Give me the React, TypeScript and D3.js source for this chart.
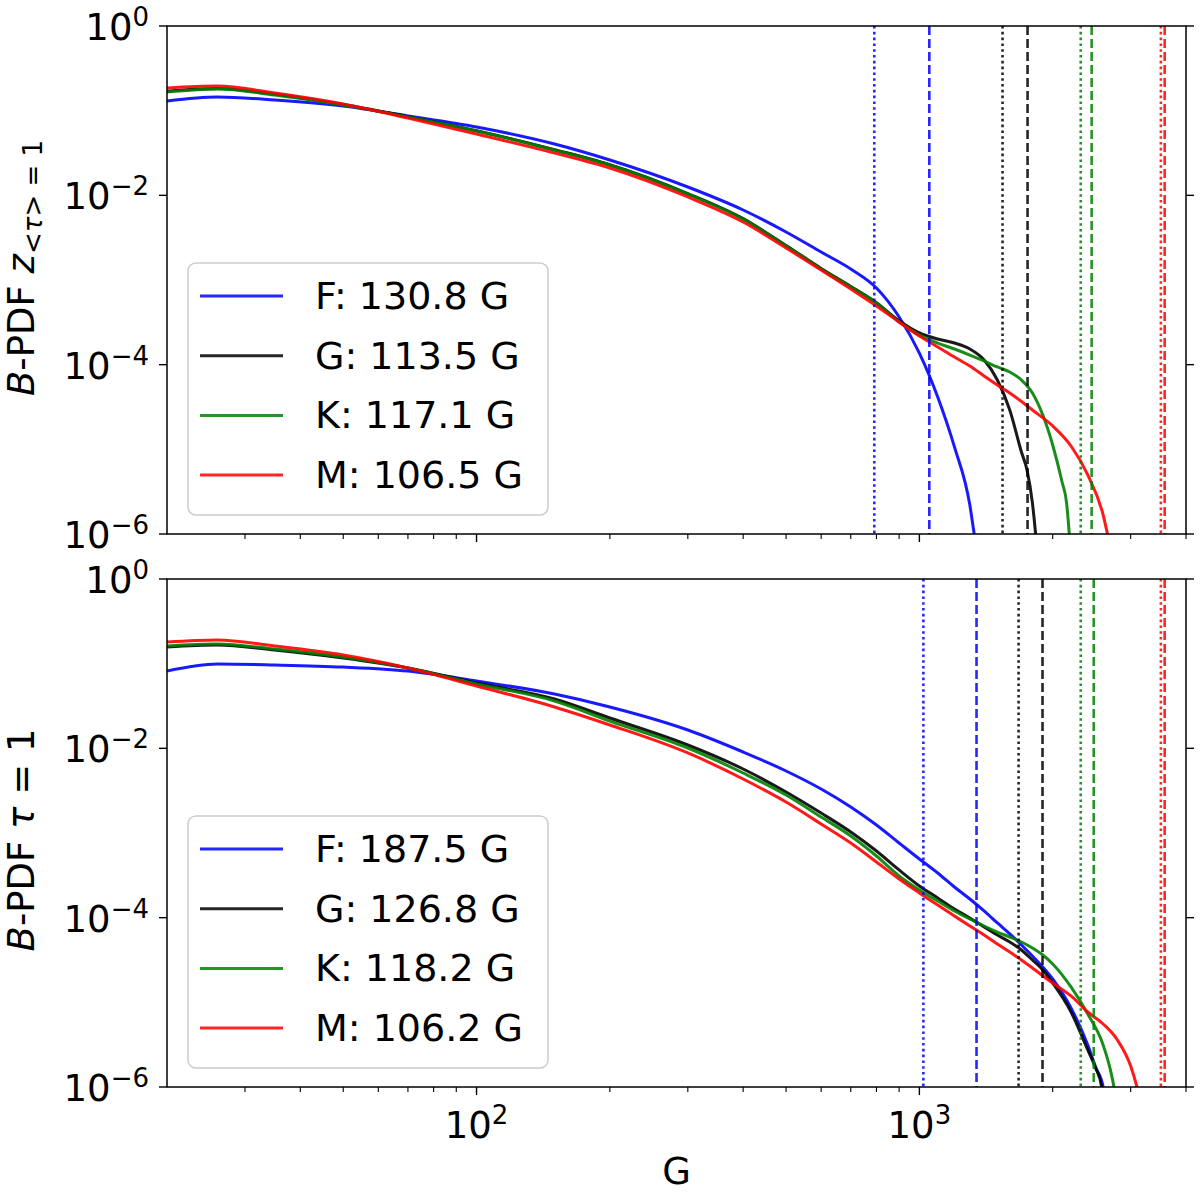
import React from 'react';
import * as d3 from 'd3';

// B-PDF at z_<tau>=1, pairs of [field strength in G, pdf]
const topF: [number, number][] = [
  [20, 0.130], [26, 0.145], [35, 0.1337], [50, 0.1135], [70, 0.0865], [100, 0.0641], [150, 0.0404],
  [200, 0.02615], [300, 0.01254], [400, 0.00671], [500, 0.00369], [600, 0.00214], [700, 0.00135],
  [800, 0.000805], [900, 0.000366], [1000, 0.000137], [1100, 4.15e-5], [1200, 1.067e-5],
  [1300, 2.2e-6], [1330, 1e-6], [1360, 5e-7],
];
const topG: [number, number][] = [
  [20, 0.170], [26, 0.183], [35, 0.156], [50, 0.118], [70, 0.085], [100, 0.058], [150, 0.0346],
  [200, 0.023], [300, 0.0105], [400, 0.0053], [500, 0.00255], [600, 0.00137], [700, 0.00084],
  [800, 0.00054], [900, 0.00033], [1000, 0.000237], [1100, 0.000201], [1200, 0.00018],
  [1300, 0.000153], [1400, 0.0001136], [1500, 6.59e-5], [1600, 2.91e-5], [1700, 9.3e-6],
  [1750, 5.7e-6], [1800, 2.32e-6], [1830, 1e-6], [1850, 5e-7],
];
const topK: [number, number][] = [
  [20, 0.1661], [26, 0.1803], [35, 0.1531], [50, 0.1167], [70, 0.0842], [100, 0.0575], [150, 0.0343],
  [200, 0.02282], [300, 0.01037], [400, 0.00525], [500, 0.00252], [600, 0.00135], [700, 0.000827],
  [800, 0.000535], [900, 0.000319], [1000, 0.000224], [1100, 0.00018], [1200, 0.000153],
  [1300, 0.00013], [1400, 0.0001105], [1500, 9.39e-5], [1600, 8.19e-5], [1700, 6.59e-5],
  [1800, 4.63e-5], [1900, 2.54e-5], [2000, 1.125e-5], [2100, 4.11e-6], [2150, 2.32e-6],
  [2180, 1e-6], [2200, 5e-7],
];
const topM: [number, number][] = [
  [20, 0.1853], [26, 0.1956], [35, 0.1617], [50, 0.1199], [70, 0.0819], [100, 0.053], [150, 0.0316],
  [200, 0.02103], [300, 0.00956], [400, 0.00484], [500, 0.00239], [600, 0.00131], [700, 0.000783],
  [800, 0.000493], [900, 0.000319], [1000, 0.000218], [1100, 0.000162], [1200, 0.000123],
  [1300, 9.65e-5], [1400, 7.35e-5], [1500, 5.75e-5], [1600, 4.63e-5], [1800, 2.91e-5],
  [2000, 1.89e-5], [2200, 1.095e-5], [2400, 4.98e-6], [2600, 1.68e-6], [2660, 1e-6], [2750, 5e-7],
];

// B-PDF at tau=1
const botF: [number, number][] = [
  [20, 0.0819], [26, 0.0991], [35, 0.0965], [50, 0.0913], [70, 0.0819], [100, 0.0624],
  [150, 0.0438], [200, 0.0308], [300, 0.01647], [400, 0.00905], [500, 0.0054], [600, 0.00331],
  [700, 0.00203], [800, 0.001243], [900, 0.000762], [1000, 0.000493], [1100, 0.000337],
  [1200, 0.00023], [1300, 0.000166], [1400, 0.00012], [1500, 8.66e-5], [1600, 6.42e-5],
  [1700, 4.76e-5], [1800, 3.53e-5], [2000, 1.89e-5], [2200, 8.58e-6], [2400, 3.13e-6],
  [2500, 1.72e-6], [2600, 1e-6], [2650, 5e-7],
];
const botG: [number, number][] = [
  [20, 0.1573], [26, 0.1661], [35, 0.145], [50, 0.1167], [70, 0.0889], [100, 0.0591],
  [150, 0.0383], [200, 0.02282], [300, 0.01095], [400, 0.0057], [500, 0.00305], [600, 0.00172],
  [700, 0.001028], [800, 0.000613], [900, 0.000366], [1000, 0.000237], [1100, 0.000171],
  [1200, 0.0001266], [1300, 9.91e-5], [1400, 7.76e-5], [1500, 6.24e-5], [1600, 5.16e-5],
  [1700, 4.15e-5], [1800, 3.16e-5], [1900, 2.41e-5], [2000, 1.69e-5], [2200, 7.69e-6],
  [2400, 2.74e-6], [2500, 1.68e-6], [2580, 1e-6], [2620, 5e-7],
];
const botK: [number, number][] = [
  [20, 0.1617], [26, 0.1707], [35, 0.149], [50, 0.1199], [70, 0.0889], [100, 0.0575],
  [150, 0.0362], [200, 0.02103], [300, 0.01009], [400, 0.00511], [500, 0.00281], [600, 0.001545],
  [700, 0.000922], [800, 0.000535], [900, 0.000311], [1000, 0.000212], [1100, 0.000157],
  [1200, 0.00012], [1300, 9.64e-5], [1400, 7.97e-5], [1500, 6.77e-5], [1600, 5.91e-5],
  [1700, 5.16e-5], [1800, 4.38e-5], [1900, 3.62e-5], [2000, 2.84e-5], [2200, 1.52e-5],
  [2400, 7.29e-6], [2600, 3.13e-6], [2700, 1.59e-6], [2750, 1e-6], [2800, 5e-7],
];
const botM: [number, number][] = [
  [20, 0.1803], [26, 0.1904], [35, 0.1617], [50, 0.1265], [70, 0.0889], [100, 0.0545],
  [150, 0.0308], [200, 0.01887], [300, 0.00881], [400, 0.00434], [500, 0.00232], [600, 0.001278],
  [700, 0.000762], [800, 0.000455], [900, 0.000286], [1000, 0.000196], [1100, 0.000141],
  [1200, 0.0001046], [1300, 7.97e-5], [1400, 6.24e-5], [1500, 4.89e-5], [1600, 3.93e-5],
  [1700, 3.16e-5], [1800, 2.54e-5], [2000, 1.69e-5], [2200, 1.19e-5], [2400, 7.69e-6],
  [2600, 5.55e-6], [2800, 3.59e-6], [3000, 1.77e-6], [3100, 1e-6], [3200, 5e-7],
];

// spectral types, colours and legend labels (mean field)
const starTypes = ['F', 'G', 'K', 'M'];
const starColors = ['#0000ff', '#000000', '#008000', '#ff0000'];
const topMeans = ['130.8', '113.5', '117.1', '106.5'];
const botMeans = ['187.5', '126.8', '118.2', '106.2'];

// vertical marker lines (G): dotted and dashed, one per spectral type
const topDotted = [791, 1541, 2314, 3510];
const topDashed = [1053, 1755, 2449, 3580];
const botDotted = [1021, 1675, 2314, 3510];
const botDashed = [1346, 1897, 2476, 3580];

const xMajor = [100, 1000];
const xMinor = [30, 40, 50, 60, 70, 80, 90, 200, 300, 400, 500, 600, 700, 800, 900, 2000, 3000, 4000];
const yMajor = [0, -2, -4, -6];

const W = 1200;
const H = 1192;
const LEFT = 167;
const RIGHT = 1186;
const FONT = 'DejaVu Sans, sans-serif';
const FS = 37;
const SUP = 26;

const x = d3.scaleLog().domain([20, 4000]).range([LEFT, RIGHT]);

function Panel({ id, top, bottom, series, dotted, dashed, means, legendTop, yLabel, yLabelY, showX }: any) {
  const y = d3.scaleLog().domain([1e-6, 1]).range([bottom, top]);
  const line = d3.line<[number, number]>()
    .x(d => x(d[0]))
    .y(d => y(d[1]))
    .curve(d3.curveMonotoneX);
  const rowGap = 59.7;
  return (
    <g>
      <defs>
        <clipPath id={id}>
          <rect x={LEFT} y={top} width={RIGHT - LEFT} height={bottom - top} />
        </clipPath>
      </defs>
      <g clipPath={`url(#${id})`}>
        {series.map((s: [number, number][], i: number) => (
          <path key={i} d={line(s) ?? ''} fill="none" stroke={starColors[i]} strokeWidth={3}
            strokeOpacity={0.9} strokeLinejoin="round" />
        ))}
        {dotted.map((v: number, i: number) => (
          <line key={'d' + i} x1={x(v)} x2={x(v)} y1={top} y2={bottom} stroke={starColors[i]}
            strokeWidth={2.6} strokeDasharray="2.6,3.2" strokeOpacity={0.85} />
        ))}
        {dashed.map((v: number, i: number) => (
          <line key={'s' + i} x1={x(v)} x2={x(v)} y1={top} y2={bottom} stroke={starColors[i]}
            strokeWidth={2.6} strokeDasharray="9,4" strokeOpacity={0.85} />
        ))}
      </g>
      {/* frame */}
      <rect x={LEFT} y={top} width={RIGHT - LEFT} height={bottom - top} fill="none" stroke="#000" strokeWidth={1.5} />
      {/* x ticks */}
      {xMajor.map(v => (
        <line key={'xm' + v} x1={x(v)} x2={x(v)} y1={bottom} y2={bottom + 8} stroke="#000" strokeWidth={1.4} />
      ))}
      {xMinor.map(v => (
        <line key={'xn' + v} x1={x(v)} x2={x(v)} y1={bottom} y2={bottom + 5} stroke="#000" strokeWidth={1.1} />
      ))}
      {showX && xMajor.map(v => (
        <text key={'xl' + v} x={x(v)} y={bottom + 51} fontFamily={FONT} fontSize={FS} textAnchor="middle" fill="#000">
          <tspan>10</tspan>
          <tspan fontSize={SUP} dy={-14}>{Math.round(Math.log10(v))}</tspan>
        </text>
      ))}
      {/* y ticks */}
      {yMajor.map(e => (
        <g key={'y' + e}>
          <line x1={LEFT - 8} x2={LEFT} y1={y(10 ** e)} y2={y(10 ** e)} stroke="#000" strokeWidth={1.4} />
          <line x1={RIGHT} x2={RIGHT + 8} y1={y(10 ** e)} y2={y(10 ** e)} stroke="#000" strokeWidth={1.4} />
          <text x={LEFT - 18} y={y(10 ** e) + 14} fontFamily={FONT} fontSize={FS} textAnchor="end" fill="#000">
            <tspan>10</tspan>
            <tspan fontSize={SUP} dy={-14}>{e === 0 ? '0' : '\u2212' + Math.abs(e)}</tspan>
          </text>
        </g>
      ))}
      {/* y label */}
      <text transform={`translate(34,${yLabelY}) rotate(-90)`} fontFamily={FONT} fontSize={FS} textAnchor="middle" fill="#000">
        {yLabel}
      </text>
      {/* legend */}
      <rect x={188} y={legendTop} width={360} height={252} rx={8} ry={8} fill="#fff" fillOpacity={0.8}
        stroke="#cccccc" strokeWidth={1.5} />
      {starTypes.map((t, i) => {
        const ry = legendTop + 33 + i * rowGap;
        return (
          <g key={'lg' + t}>
            <line x1={200} x2={283} y1={ry} y2={ry} stroke={starColors[i]} strokeWidth={3} strokeOpacity={0.85} />
            <text x={315} y={ry + 13} fontFamily={FONT} fontSize={38} fill="#000">{`${t}: ${means[i]} G`}</text>
          </g>
        );
      })}
    </g>
  );
}

export default function App() {
  const topLabel = (
    <>
      <tspan fontStyle="italic">B</tspan>
      <tspan>-PDF </tspan>
      <tspan fontStyle="italic">z</tspan>
      <tspan fontSize={SUP} dy={8}>{'<'}</tspan>
      <tspan fontSize={SUP} fontStyle="italic">τ</tspan>
      <tspan fontSize={SUP}>{'> = 1'}</tspan>
    </>
  );
  const botLabel = (
    <>
      <tspan fontStyle="italic">B</tspan>
      <tspan>-PDF </tspan>
      <tspan fontStyle="italic">τ</tspan>
      <tspan>{' = 1'}</tspan>
    </>
  );
  return (
    <svg width={W} height={H} viewBox={`0 0 ${W} ${H}`}
      style={{ position: 'absolute', left: 0, top: 0, display: 'block', background: '#fff' }}>
      <Panel id="clipTop" top={26} bottom={534} series={[topF, topG, topK, topM]}
        dotted={topDotted} dashed={topDashed} means={topMeans} legendTop={263}
        yLabel={topLabel} yLabelY={268} showX={false} />
      <Panel id="clipBot" top={579} bottom={1087} series={[botF, botG, botK, botM]}
        dotted={botDotted} dashed={botDashed} means={botMeans} legendTop={816}
        yLabel={botLabel} yLabelY={840} showX={true} />
      <text x={(LEFT + RIGHT) / 2} y={1184} fontFamily={FONT} fontSize={FS} textAnchor="middle" fill="#000">G</text>
    </svg>
  );
}
